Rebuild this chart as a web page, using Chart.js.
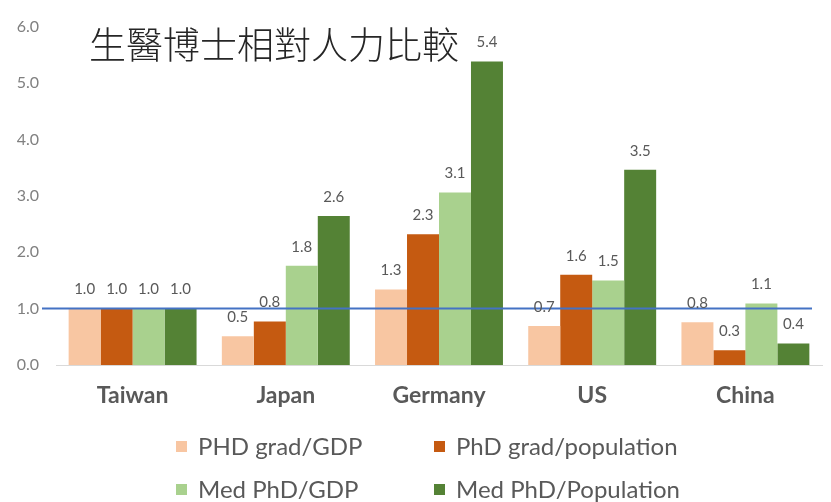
<!DOCTYPE html>
<html>
<head>
<meta charset="utf-8">
<script src="https://cdn.jsdelivr.net/npm/chart.js@4.4.1/dist/chart.umd.min.js"></script>
<style>
  html, body { margin: 0; padding: 0; background: #ffffff; }
  #wrap { position: relative; width: 831px; height: 502px; }
</style>
</head>
<body>
<div id="wrap"><canvas id="c" width="831" height="502"></canvas></div>
<script>
const chartTitle = '生醫博士相對人力比較';
const categories = ['Taiwan', 'Japan', 'Germany', 'US', 'China'];
const seriesNames = ['PHD grad/GDP', 'PhD grad/population', 'Med PhD/GDP', 'Med PhD/Population'];
const phdGradGdp = [1.0, 0.51, 1.34, 0.69, 0.76];
const phdGradPop = [1.0, 0.77, 2.32, 1.60, 0.26];
const medPhdGdp = [1.0, 1.76, 3.06, 1.50, 1.09];
const medPhdPop = [1.0, 2.64, 5.38, 3.46, 0.38];
const yTicks = [0, 1, 2, 3, 4, 5, 6];
const referenceValue = 1.0;
const colors = ['#F8C6A2', '#C55A11', '#A9D18E', '#548235'];

const seriesValues = [phdGradGdp, phdGradPop, medPhdGdp, medPhdPop];

const FONT = 'Lato, "Liberation Sans", sans-serif';

const overlayPlugin = {
  id: 'overlay',
  afterDatasetsDraw(chart) {
    const ctx = chart.ctx;
    const y = chart.scales.y;
    const area = chart.chartArea;
    const ry = y.getPixelForValue(referenceValue);
    ctx.save();
    ctx.strokeStyle = '#4472C4';
    ctx.lineWidth = 2;
    ctx.beginPath();
    ctx.moveTo(area.left - 14, ry);
    ctx.lineTo(area.right - 10, ry);
    ctx.stroke();
    ctx.fillStyle = '#595959';
    ctx.font = '15px ' + FONT;
    ctx.textAlign = 'center';
    ctx.textBaseline = 'middle';
    chart.data.datasets.forEach((ds, di) => {
      const meta = chart.getDatasetMeta(di);
      meta.data.forEach((bar, i) => {
        ctx.fillText(ds.data[i].toFixed(1), bar.x, bar.y - 19);
      });
    });
    ctx.restore();
  },
  afterDraw(chart) {
    const ctx = chart.ctx;
    ctx.save();
    ctx.fillStyle = '#262626';
    ctx.font = '300 37px "Noto Sans CJK TC", sans-serif';
    ctx.textAlign = 'left';
    ctx.textBaseline = 'middle';
    ctx.fillText(chartTitle, 89, 45);
    const cols = [176, 434];
    const rows = [446, 489];
    ctx.font = '24px ' + FONT;
    chart.data.datasets.forEach((ds, di) => {
      const cx = cols[di % 2];
      const cy = rows[Math.floor(di / 2)];
      ctx.fillStyle = ds.backgroundColor;
      ctx.fillRect(cx, cy - 5, 11, 11);
      ctx.fillStyle = '#595959';
      ctx.fillText(ds.label, cx + 22, cy + 1);
    });
    ctx.restore();
  }
};

new Chart(document.getElementById('c'), {
  type: 'bar',
  data: {
    labels: categories,
    datasets: seriesNames.map((name, i) => ({
      label: name,
      data: seriesValues[i],
      backgroundColor: colors[i],
      borderWidth: 0,
      categoryPercentage: 0.835,
      barPercentage: 1.0
    }))
  },
  options: {
    responsive: false,
    animation: false,
    devicePixelRatio: 1,
    layout: { padding: { top: 21, left: 17, right: 9, bottom: 94 } },
    plugins: {
      legend: { display: false },
      title: { display: false },
      tooltip: { enabled: false }
    },
    scales: {
      x: {
        grid: { display: false, drawTicks: false },
        border: { display: true, color: '#D9D9D9', width: 1 },
        afterFit(scale) { scale.height = 43; scale.paddingLeft = 0; scale.paddingRight = 0; },
        ticks: {
          padding: 17,
          maxRotation: 0,
          minRotation: 0,
          autoSkip: false,
          color: '#595959',
          font: { family: FONT, size: 23, weight: 'bold' }
        }
      },
      y: {
        min: 0,
        max: 6,
        afterBuildTicks(scale) { scale.ticks = yTicks.map(v => ({ value: v })); },
        afterFit(scale) { scale.width = 39; },
        grid: { display: false, drawTicks: false },
        border: { display: false },
        ticks: {
          padding: 17,
          color: '#808080',
          font: { family: FONT, size: 16 },
          callback: v => Number(v).toFixed(1)
        }
      }
    }
  },
  plugins: [overlayPlugin]
});
</script>
</body>
</html>
